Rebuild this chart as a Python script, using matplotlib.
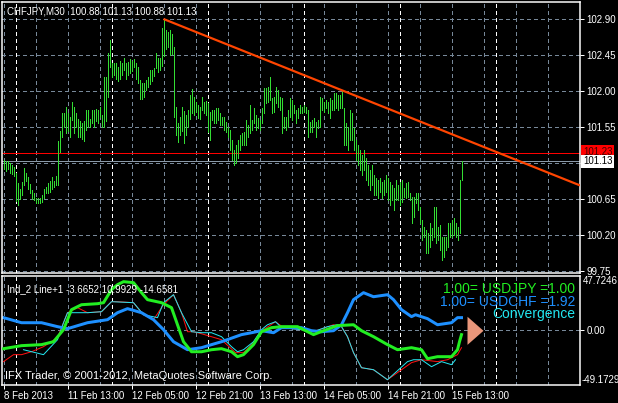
import matplotlib
matplotlib.use('Agg')
import matplotlib.pyplot as plt
from matplotlib.patches import Polygon
from matplotlib.transforms import blended_transform_factory

plt.rcParams['font.family'] = ['Liberation Sans', 'DejaVu Sans']

# CHFJPY M30 bars (high / low), one value per bar
highs = [101.14, 101.12, 101.13, 101.10, 101.08, 101.05, 100.98, 100.85, 100.78, 100.86,
         101.04, 100.98, 100.92, 100.84, 100.76, 100.72, 100.66, 100.66, 100.66, 100.70,
         100.78, 100.80, 100.85, 100.88, 100.92, 100.88, 100.94, 101.38, 101.50, 101.73,
         101.72, 101.80, 101.73, 101.67, 101.86, 101.80, 101.73, 101.65, 101.62, 101.60,
         101.62, 101.76, 101.76, 101.65, 101.76, 101.76, 101.78, 101.76, 101.80, 101.70,
         102.18, 102.18, 102.48, 102.64, 102.35, 102.35, 102.35, 102.30, 102.38, 102.35,
         102.41, 102.35, 102.36, 102.40, 102.38, 102.40, 102.35, 102.30, 102.14, 102.10,
         102.10, 102.14, 102.18, 102.26, 102.26, 102.29, 102.48, 102.41, 102.41, 102.79,
         102.90, 102.76, 102.74, 102.76, 102.71, 102.55, 101.80, 101.60, 101.68, 101.80,
         101.75, 101.70, 101.76, 101.95, 102.02, 101.92, 101.86, 101.82, 101.80, 101.93,
         101.86, 101.88, 101.85, 101.74, 101.76, 101.76, 101.79, 101.79, 101.72, 101.67,
         101.67, 101.61, 101.55, 101.51, 101.39, 101.26, 101.32, 101.39, 101.45, 101.47,
         101.49, 101.64, 101.57, 101.82, 101.64, 101.79, 101.70, 101.66, 101.64, 101.79,
         102.04, 102.04, 102.05, 102.17, 101.91, 101.92, 102.05, 102.01, 101.92, 101.91,
         101.67, 101.67, 101.76, 101.91, 101.89, 101.82, 101.76, 101.79, 101.82, 101.80,
         101.82, 101.80, 101.76, 101.61, 101.64, 101.66, 101.61, 101.64, 101.92, 101.91,
         101.86, 101.89, 101.86, 101.91, 101.89, 101.97, 101.97, 101.95, 101.95, 102.01,
         101.79, 101.60, 101.55, 101.76, 101.72, 101.54, 101.39, 101.32, 101.26, 101.20,
         101.26, 101.16, 101.07, 101.01, 101.07, 100.95, 100.91, 100.89, 100.91, 100.86,
         100.89, 100.95, 100.91, 100.86, 100.82, 100.79, 100.89, 100.82, 100.86, 100.89,
         100.79, 100.85, 100.86, 100.72, 100.67, 100.67, 100.72, 100.72, 100.55, 100.39,
         100.30, 100.26, 100.22, 100.35, 100.29, 100.55, 100.55, 100.30, 100.32, 100.17,
         100.17, 100.17, 100.35, 100.35, 100.39, 100.41, 100.35, 100.30, 100.89, 101.13]
lows = [101.03, 101.00, 101.03, 100.98, 100.96, 100.94, 100.62, 100.58, 100.65, 100.70,
        100.82, 100.88, 100.78, 100.72, 100.65, 100.64, 100.60, 100.60, 100.60, 100.61,
        100.66, 100.72, 100.72, 100.74, 100.78, 100.80, 100.82, 100.82, 101.24, 101.43,
        101.55, 101.48, 101.50, 101.43, 101.64, 101.48, 101.55, 101.42, 101.42, 101.40,
        101.38, 101.51, 101.55, 101.55, 101.60, 101.55, 101.63, 101.60, 101.68, 101.55,
        101.55, 101.62, 101.93, 102.30, 102.18, 102.20, 102.15, 102.13, 102.15, 102.20,
        102.26, 102.15, 102.20, 102.22, 102.25, 102.30, 102.15, 102.10, 101.90, 101.90,
        101.93, 102.01, 102.05, 102.09, 102.13, 102.19, 102.29, 102.24, 102.26, 102.31,
        102.44, 102.53, 102.55, 102.45, 102.46, 101.68, 101.45, 101.36, 101.45, 101.50,
        101.35, 101.45, 101.55, 101.65, 101.72, 101.70, 101.74, 101.66, 101.65, 101.76,
        101.72, 101.70, 101.49, 101.39, 101.64, 101.60, 101.60, 101.64, 101.57, 101.57,
        101.51, 101.49, 101.42, 101.26, 101.14, 101.07, 101.10, 101.16, 101.26, 101.32,
        101.32, 101.32, 101.42, 101.47, 101.51, 101.60, 101.51, 101.54, 101.51, 101.60,
        101.72, 101.85, 101.86, 101.89, 101.72, 101.74, 101.85, 101.80, 101.76, 101.47,
        101.54, 101.51, 101.55, 101.67, 101.64, 101.72, 101.60, 101.66, 101.72, 101.72,
        101.74, 101.72, 101.42, 101.49, 101.49, 101.55, 101.42, 101.54, 101.55, 101.76,
        101.74, 101.79, 101.72, 101.66, 101.76, 101.76, 101.79, 101.76, 101.79, 101.79,
        101.32, 101.32, 101.26, 101.39, 101.39, 101.26, 101.14, 101.07, 101.01, 100.95,
        101.01, 100.89, 100.82, 100.76, 100.82, 100.70, 100.70, 100.66, 100.74, 100.66,
        100.70, 100.74, 100.64, 100.58, 100.64, 100.51, 100.64, 100.64, 100.58, 100.61,
        100.68, 100.66, 100.68, 100.64, 100.35, 100.42, 100.60, 100.51, 100.35, 100.14,
        100.17, 99.97, 99.97, 100.05, 100.14, 100.17, 100.10, 100.14, 100.01, 99.89,
        99.92, 100.01, 100.05, 100.17, 100.17, 100.20, 100.17, 100.14, 100.22, 100.89]

title_text = 'CHFJPY,M30  100.88 101.13 100.88 101.13'
price_ticks = [99.75, 100.20, 100.65, 101.10, 101.55, 102.00, 102.45, 102.90]
hidden_ticks = [101.10]
ask_price = 101.23
bid_price = 101.13
trend_bars = [80, 288.25]
trend_prices = [102.90, 100.82]

time_labels = ['8 Feb 2013', '11 Feb 13:00', '12 Feb 05:00', '12 Feb 21:00',
               '13 Feb 13:00', '14 Feb 05:00', '14 Feb 21:00', '15 Feb 13:00']
label_bars = [0, 32, 64, 96, 128, 160, 192, 224]
separator_bars = [6, 54, 102, 150, 198, 246]

# indicator window
ind_label = 'Ind_2 Line+1 -3.6652 10.9929 -14.6581'
ind_max, ind_min = 47.7246, -49.1729

green_bars = [0, 9, 19, 25, 30, 34, 39, 47, 50, 54, 57, 60, 65, 69, 72, 79, 84, 87, 90, 94,
              99, 104, 109, 114, 117, 120, 125, 129, 134, 139, 147, 150, 155, 160, 167,
              175, 179, 185, 192, 197, 204, 209, 212, 217, 224, 227, 228, 229]
green_vals = [-16.9, -14.2, -13.3, -10.7, 0.0, 17.8, 22.2, 23.1, 24.0, 35.6, 40.0, 42.7,
              41.8, 32.9, 26.7, 24.0, 19.6, 4.4, -10.7, -19.6, -19.6, -17.8, -16.9, -19.6,
              -24.0, -22.2, -13.3, -1.8, 1.8, 2.7, 2.7, 0.0, -4.4, -0.9, 3.6, 4.4, -0.9,
              -6.2, -13.3, -17.8, -16.0, -17.8, -25.8, -24.0, -24.0, -17.8, -10.7, -4.4]

blue_bars = [0, 9, 19, 27, 32, 42, 52, 57, 62, 69, 75, 80, 85, 92, 99, 104, 109, 119, 124,
             129, 135, 139, 149, 154, 159, 165, 169, 172, 175, 180, 185, 192, 195, 199,
             204, 206, 212, 217, 224, 227, 229]
blue_vals = [10.7, 6.2, 6.2, 2.7, 0.9, 6.2, 8.9, 15.1, 18.7, 15.1, 8.9, 0.0, -10.7, -17.8,
             -16.0, -13.3, -10.7, -4.4, -2.7, -0.9, -2.7, 1.8, 1.8, -0.9, -1.8, -0.9, 4.4,
             15.1, 26.7, 32.9, 29.3, 31.1, 26.7, 17.8, 11.6, 13.3, 9.8, 4.4, 6.2, 10.7, 10.7]

cyan_bars = [10, 20, 27, 30, 32, 37, 42, 49, 54, 65, 70, 77, 80, 85, 89, 94, 99, 104, 109,
             114, 117, 120, 125, 129, 132, 136, 139, 149, 155, 162, 167, 169, 172, 175,
             179, 185, 192, 202, 205, 209, 214, 219, 224, 226]
cyan_vals = [-17.8, -22.2, -8.9, 6.2, 15.1, 15.1, 15.1, 16.0, 24.9, 24.0, 13.3, 10.7, 24.0,
             31.1, 15.1, -1.8, -2.7, -2.7, -6.2, -15.1, -19.6, -17.8, -10.7, 0.0, 4.4, 7.1,
             1.8, 0.0, -1.8, 2.7, 4.4, 2.7, -6.2, -20.4, -33.8, -35.6, -44.5, -28.4, -26.7,
             -26.7, -32.9, -28.4, -31.1, -26.7]

red_bars = [0, 5, 9, 14, 20, 27, 30, 32, 37, 42, 49, 54, 57, 65, 70, 75, 80, 85, 89, 92,
            95, 99, 109, 116, 120, 125, 130, 136, 140, 149, 155, 165, 169, 172, 175, 179,
            185, 192, 199, 204, 209, 217, 222, 227, 229]
red_vals = [-28.4, -22.2, -22.2, -19.6, -15.1, -7.1, 6.2, 15.1, 19.6, 15.1, 16.0, 24.9,
            24.9, 24.0, 13.3, 8.9, 22.2, 31.1, 15.1, -1.8, -1.8, -3.6, -8.9, -20.4, -20.4,
            -11.6, 0.0, 7.1, 1.8, 0.0, -1.8, 4.4, 2.7, -6.2, -20.4, -33.8, -35.6, -44.5,
            -35.6, -29.3, -26.7, -28.4, -26.7, -22.2, -16.0]

arrow_bar = 232
arrow_level = -1.0
legend_lines = ['1.00= USDJPY =1.00', '1.00= USDCHF =1.92', 'Convergence']

W, H = 618, 403
FG = 'white'
GRID = '#778899'
BAR_GREEN = '#33dd33'
LINE_GREEN = '#22ee22'
BLUE = '#1e90ff'
CYAN = '#22e6f0'
RED = '#ff1010'
PX = 72.0 / 100  # one pixel in points

fig = plt.figure(figsize=(W / 100, H / 100), dpi=100, facecolor='black')
ax = fig.add_axes([2 / W, 1 - 273 / H, 578 / W, 271 / H], facecolor='black')
ind = fig.add_axes([2 / W, 1 - 385 / H, 578 / W, 109 / H], facecolor='black')

xlim = (-0.75, 288.25)
for a in (ax, ind):
    a.set_xlim(*xlim)
    for s in a.spines.values():
        s.set_color(FG)
        s.set_linewidth(PX * 1.5)
    # grid + period separators
    for b in range(0, 289, 16):
        a.axvline(b, color=GRID, lw=PX, ls=(0, (4, 3)), zorder=0.5, antialiased=False)
    for b in separator_bars:
        a.axvline(b, color=FG, lw=PX, ls=(0, (4, 3)), zorder=0.6, antialiased=False)

# ---- main price window
ax.set_ylim(99.725, 103.1125)
for p in price_ticks:
    ax.axhline(p, color=GRID, lw=PX, ls=(0, (4, 3)), zorder=0.5, antialiased=False)
ax.vlines(range(len(highs)), lows, highs, color=BAR_GREEN, lw=PX, zorder=2,
          antialiased=False)
ax.plot(trend_bars, trend_prices, color='#ff4500', lw=PX * 2.2, zorder=3,
        solid_capstyle='butt')
ax.axhline(ask_price, color='#ff0000', lw=PX, zorder=1.5)
ax.axhline(bid_price, color='#8a99a8', lw=PX, zorder=1.5)

ax.yaxis.tick_right()
ax.set_yticks(price_ticks)
ax.set_yticklabels(['' if p in hidden_ticks else '%.2f' % p for p in price_ticks])
ax.tick_params(axis='y', colors=FG, length=3, width=PX, pad=1.5, labelsize=7)
ax.set_xticks([])

trans = blended_transform_factory(ax.transAxes, ax.transData)
ax.text(1.005, ask_price + 0.01, '%.2f' % ask_price, transform=trans, fontsize=7,
        color='#400000', va='center', ha='left', clip_on=False,
        bbox=dict(boxstyle='square,pad=0.15', fc='#ff0000', ec='none'))
ax.text(1.005, bid_price - 0.01, '%.2f' % bid_price, transform=trans, fontsize=7,
        color='black', va='center', ha='left', clip_on=False,
        bbox=dict(boxstyle='square,pad=0.15', fc='white', ec='none'))
ax.text(0.009, 0.985, title_text, transform=ax.transAxes, fontsize=7, color=FG,
        va='top', ha='left')

# ---- indicator window
ind.set_ylim(ind_min, ind_max)
ind.axhline(0, color=GRID, lw=PX, ls=(0, (4, 3)), zorder=0.5, antialiased=False)
ind.plot(red_bars, red_vals, color=RED, lw=PX, zorder=2)
ind.plot(cyan_bars, cyan_vals, color=CYAN, lw=PX, zorder=2.2)
ind.plot(blue_bars, blue_vals, color=BLUE, lw=PX * 3, zorder=2.4, solid_joinstyle='round')
ind.plot(green_bars, green_vals, color=LINE_GREEN, lw=PX * 3, zorder=2.6,
         solid_joinstyle='round')

half_w, half_h = 8, 12.5
tri = Polygon([[arrow_bar, arrow_level + half_h], [arrow_bar, arrow_level - half_h],
               [arrow_bar + half_w, arrow_level]], closed=True, fc='#e9967a', ec='none',
              zorder=3)
ind.add_patch(tri)

ind.yaxis.tick_right()
ind.set_yticks([0])
ind.set_yticklabels(['0.00'])
ind.tick_params(axis='y', colors=FG, length=3, width=PX, pad=1.5, labelsize=7)
itrans = blended_transform_factory(ind.transAxes, ind.transData)
ind.text(1.005, ind_max, '%.4f' % ind_max, transform=itrans, fontsize=7, color=FG,
         va='top', ha='left', clip_on=False)
ind.text(1.002, ind_min, '%.4f' % ind_min, transform=itrans, fontsize=7, color=FG,
         va='bottom', ha='left', clip_on=False)

ind.set_xticks(label_bars)
ind.set_xticklabels(time_labels, ha='left')
ind.tick_params(axis='x', colors=FG, length=3, width=PX, pad=1, labelsize=7)
for lab in ind.get_xticklabels():
    lab.set_horizontalalignment('left')

ind.text(0.009, 0.93, ind_label, transform=ind.transAxes, fontsize=7, color=FG,
         va='top', ha='left')
ind.text(0.005, 0.04, 'IFX Trader, \u00a9 2001-2012, MetaQuotes Software Corp.',
         transform=ind.transAxes, fontsize=8, color=FG, va='bottom', ha='left')

for k, (txt, col) in enumerate(zip(legend_lines, [LINE_GREEN, BLUE, CYAN])):
    fig.text(575 / W, 1 - (289 + 12.5 * k) / H, txt, fontsize=10, color=col,
             ha='right', va='center')

fig.savefig('out.png', dpi=100, facecolor='black')
